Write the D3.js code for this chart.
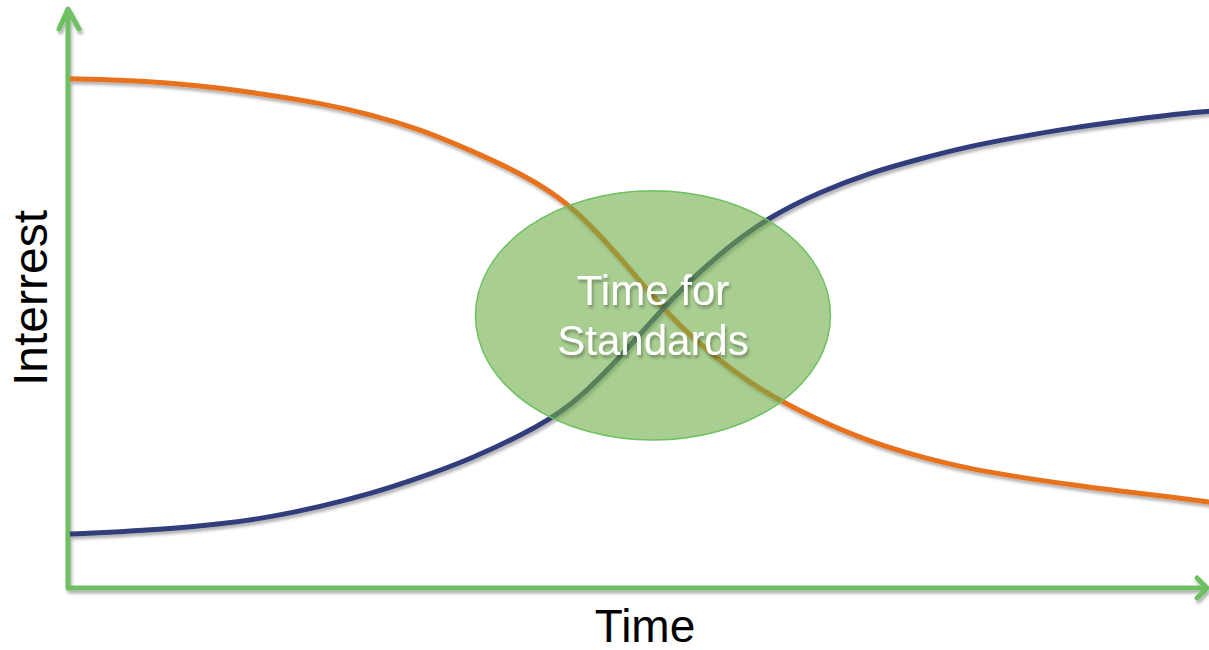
<!DOCTYPE html>
<html>
<head>
<meta charset="utf-8">
<script src="https://cdn.jsdelivr.net/npm/d3@7"></script>
<style>
  html, body { margin: 0; padding: 0; background: #fff; }
  svg { display: block; font-family: Arial, "Liberation Sans", sans-serif; }
</style>
</head>
<body>
<svg id="chart"></svg>
<script>
// data (time 0..114, interest 0..100)
const time = [0, 5, 10, 15, 20, 25, 30, 35, 40, 45, 50, 55, 60, 65, 70, 75, 80, 85, 90, 95, 100, 105, 110, 114];
const oldInterest = [87.8, 87.6, 87.1, 86.2, 85.0, 83.6, 81.7, 79.1, 75.5, 71.6, 66.4, 57.1, 46.6, 39.0,
  33.1, 28.8, 25.2, 22.6, 20.5, 19.1, 17.8, 16.7, 15.7, 14.8];
const newInterest = [9.3, 9.7, 10.2, 11.0, 12.2, 14.0, 16.2, 19.0, 22.2, 26.2, 31.0, 39.7, 49.7, 57.8,
  64.1, 68.3, 71.6, 74.0, 76.2, 77.8, 79.3, 80.5, 81.6, 82.2];
const zone = { t: 58.3, v: 47.0, rt: 17.75, rv: 21.5 };
const zoneLabel = ["Time for", "Standards"];
const xLabel = "Time";
const yLabel = "Interrest";

const width = 1209, height = 650;
const green = "#6fbf63", orange = "#e8711f", blue = "#323c7c";

const svg = d3.select("#chart").attr("width", width).attr("height", height);

const x = d3.scaleLinear().domain([0, 114]).range([70, 1210]);
const y = d3.scaleLinear().domain([0, 100]).range([588, 8]);

const defs = svg.append("defs");
defs.append("filter").attr("id", "shadow")
  .attr("x", "-5%").attr("y", "-5%").attr("width", "110%").attr("height", "120%")
  .append("feDropShadow")
  .attr("dx", 1.5).attr("dy", 3).attr("stdDeviation", 1.5)
  .attr("flood-color", "#000").attr("flood-opacity", 0.3);

// axes with arrow heads
const axes = svg.append("g").attr("filter", "url(#shadow)")
  .attr("fill", "none").attr("stroke", green).attr("stroke-width", 5)
  .attr("stroke-linecap", "round").attr("stroke-linejoin", "round");

axes.append("path")
  .attr("d", `M${x(0) - 2},${y(0)} V${y(100) + 1}`)
  .attr("stroke-linecap", "butt");
axes.append("path")
  .attr("d", `M${x(0) - 11},${y(100) + 21} L${x(0) - 2},${y(100) + 1} L${x(0) + 9},${y(100) + 21}`);
axes.append("path")
  .attr("d", `M${x(0) - 4},${y(0)} H${x(114) - 3}`)
  .attr("stroke-linecap", "butt");
axes.append("path")
  .attr("d", `M${x(114) - 13},${y(0) - 10} L${x(114) - 3},${y(0)} L${x(114) - 13},${y(0) + 10}`);

// the two curves (B-spline through the read points, to keep them smooth)
const line = d3.line()
  .x((d, i) => x(time[i]))
  .y(d => y(d))
  .curve(d3.curveBasis);

const curves = svg.append("g").attr("filter", "url(#shadow)");
curves.append("path").datum(oldInterest)
  .attr("d", line).attr("fill", "none")
  .attr("stroke", orange).attr("stroke-width", 5);
curves.append("path").datum(newInterest)
  .attr("d", line).attr("fill", "none")
  .attr("stroke", blue).attr("stroke-width", 5);

// highlight ellipse
svg.append("ellipse")
  .attr("cx", x(zone.t)).attr("cy", y(zone.v))
  .attr("rx", x(zone.rt) - x(0)).attr("ry", y(0) - y(zone.rv))
  .attr("fill", "#70ad47").attr("fill-opacity", 0.6)
  .attr("stroke", "#6fc060").attr("stroke-width", 1.5);

svg.append("g").attr("filter", "url(#shadow)")
  .selectAll("text").data(zoneLabel).join("text")
  .attr("x", x(zone.t))
  .attr("y", (d, i) => 305 + i * 50)
  .attr("text-anchor", "middle")
  .attr("font-size", 42)
  .attr("fill", "#fff")
  .text(d => d);

// axis titles
svg.append("text")
  .attr("x", x(57.5)).attr("y", 642)
  .attr("text-anchor", "middle")
  .attr("font-size", 46)
  .attr("fill", "#000")
  .text(xLabel);

svg.append("text")
  .attr("transform", "translate(47,298) rotate(-90)")
  .attr("text-anchor", "middle")
  .attr("font-size", 48)
  .attr("fill", "#000")
  .text(yLabel);
</script>
</body>
</html>
